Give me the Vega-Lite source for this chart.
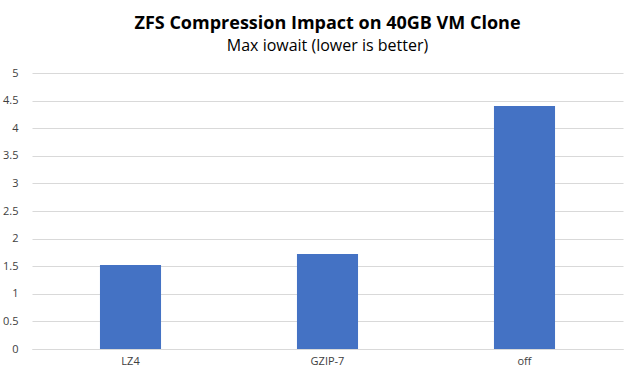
{
  "$schema": "https://vega.github.io/schema/vega-lite/v6.json",
  "width": 591,
  "height": 276,
  "autosize": {"type": "none"},
  "padding": {"left": 32, "top": 73, "right": 16, "bottom": 30},
  "background": "white",
  "title": {
    "text": "ZFS Compression Impact on 40GB VM Clone",
    "subtitle": "Max iowait (lower is better)",
    "font": "Open Sans",
    "fontSize": 18,
    "fontWeight": "bold",
    "color": "#000000",
    "subtitleFont": "Open Sans",
    "subtitleFontSize": 16,
    "subtitleColor": "#000000",
    "subtitlePadding": 5,
    "anchor": "middle",
    "offset": 13
  },
  "data": {
    "values": [
      {"mode": "LZ4", "value": 1.52},
      {"mode": "GZIP-7", "value": 1.72},
      {"mode": "off", "value": 4.4}
    ]
  },
  "mark": {"type": "bar", "color": "#4472C4"},
  "encoding": {
    "x": {
      "field": "mode",
      "type": "nominal",
      "sort": null,
      "scale": {"paddingInner": 0.69, "paddingOuter": 0.345},
      "axis": {
        "title": null,
        "labelAngle": 0,
        "ticks": false,
        "domainColor": "#d9d9d9",
        "labelColor": "#404040",
        "labelFont": "Open Sans",
        "labelFontSize": 11,
        "labelPadding": 6
      }
    },
    "y": {
      "field": "value",
      "type": "quantitative",
      "scale": {"domain": [0, 5]},
      "axis": {
        "title": null,
        "values": [0, 0.5, 1, 1.5, 2, 2.5, 3, 3.5, 4, 4.5, 5],
        "format": "~g",
        "domain": false,
        "ticks": false,
        "gridColor": "#d9d9d9",
        "labelColor": "#404040",
        "labelFont": "Open Sans",
        "labelFontSize": 11,
        "labelPadding": 14
      }
    }
  },
  "config": {"view": {"stroke": null}}
}
